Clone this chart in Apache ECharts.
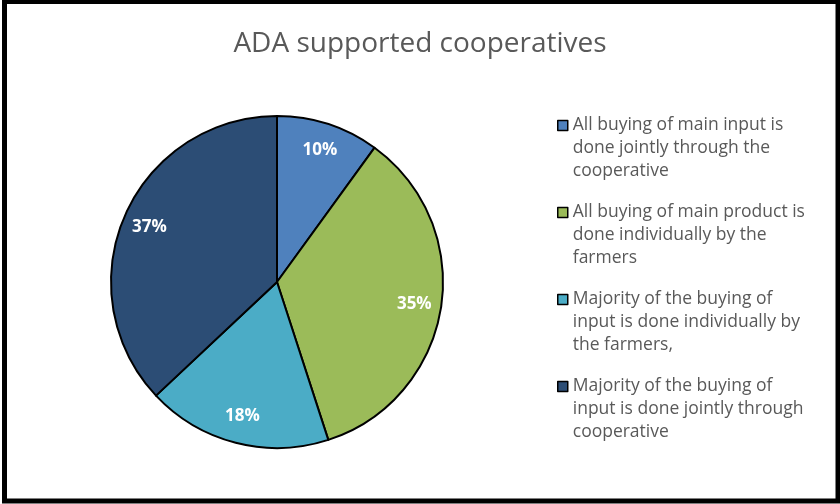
<!DOCTYPE html>
<html>
<head>
<meta charset="utf-8">
<script src="https://cdn.jsdelivr.net/npm/echarts@6/dist/echarts.min.js"></script>
<style>
  html, body { margin: 0; padding: 0; background: #fff; }
  #chart { width: 840px; height: 504px; }
</style>
</head>
<body>
<div id="chart"></div>
<script>
// Share of cooperatives by how inputs are bought
const categories = [
  'All buying of main input is\ndone jointly through the\ncooperative',
  'All buying of main product is\ndone individually by the\nfarmers',
  'Majority of the buying of\ninput is done individually by\nthe farmers,',
  'Majority of the buying of\ninput is done jointly through\ncooperative'
];
const shares = [10, 35, 18, 37];
const sliceColors = ['#4F81BD', '#9BBB59', '#4BACC6', '#2C4D75'];
const chartTitle = 'ADA supported cooperatives';

const pieData = categories.map((name, i) => ({
  name: name,
  value: shares[i],
  itemStyle: { color: sliceColors[i] }
}));

const chart = echarts.init(document.getElementById('chart'), null, { renderer: 'canvas' });

const center = [277, 282];
const outerR = 166;

chart.setOption({
  animation: false,
  backgroundColor: '#fff',
  title: {
    text: chartTitle,
    left: 'center',
    top: 25,
    textStyle: {
      fontFamily: 'Open Sans',
      fontWeight: 'normal',
      fontSize: 28,
      color: '#595959'
    }
  },
  legend: {
    orient: 'vertical',
    left: 557,
    top: 68,
    padding: 0,
    itemWidth: 10,
    itemHeight: 10,
    itemGap: -28,
    icon: 'rect',
    selectedMode: false,
    itemStyle: { borderColor: '#000', borderWidth: 1.5 },
    // two blank lines first so the swatch sits beside the first text line
    formatter: name => '\n\n' + name,
    textStyle: {
      fontFamily: 'Open Sans',
      fontSize: 17.5,
      lineHeight: 23,
      color: '#595959'
    },
    data: categories
  },
  graphic: [{
    type: 'rect',
    shape: { x: 4.5, y: 1.5, width: 833.5, height: 499.5 },
    style: { fill: 'none', stroke: '#000', lineWidth: 5 },
    silent: true,
    z: 100
  }],
  series: [
    {
      // the pie itself
      type: 'pie',
      center: center,
      radius: [0, outerR],
      startAngle: 90,
      clockwise: true,
      silent: true,
      label: { show: false },
      labelLine: { show: false },
      itemStyle: { borderColor: '#000', borderWidth: 2 },
      data: pieData
    },
    {
      // transparent ring carrying the percentage labels toward the rim
      type: 'pie',
      center: center,
      radius: [106, outerR],
      startAngle: 90,
      clockwise: true,
      silent: true,
      legendHoverLink: false,
      itemStyle: { color: 'transparent', borderWidth: 0 },
      label: {
        show: true,
        position: 'inside',
        formatter: p => p.value + '%',
        fontFamily: 'Open Sans',
        fontWeight: 'bold',
        fontSize: 17,
        color: '#fff'
      },
      labelLine: { show: false },
      data: categories.map((name, i) => ({ name: name + ' ', value: shares[i] }))
    }
  ]
});
</script>
</body>
</html>
